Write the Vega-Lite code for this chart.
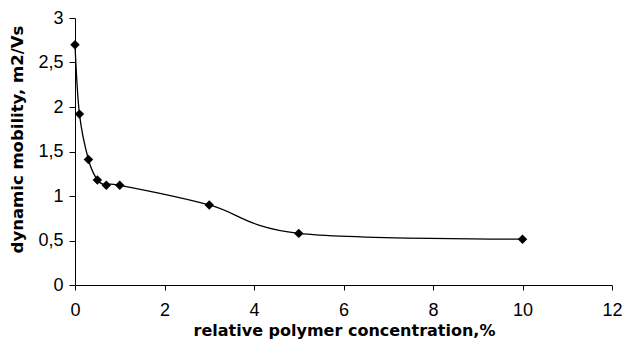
{
  "$schema": "https://vega.github.io/schema/vega-lite/v6.json",
  "width": 537,
  "height": 267,
  "autosize": {"type": "none"},
  "padding": {"left": 75, "top": 18, "right": 12, "bottom": 54},
  "background": "white",
  "config": {
    "view": {"stroke": null}
  },
  "data": {
    "values": [
      {"c": 0, "m": 2.7},
      {"c": 0.1, "m": 1.92},
      {"c": 0.3, "m": 1.41},
      {"c": 0.5, "m": 1.18},
      {"c": 0.7, "m": 1.12},
      {"c": 1, "m": 1.12},
      {"c": 3, "m": 0.9},
      {"c": 5, "m": 0.58},
      {"c": 10, "m": 0.515}
    ]
  },
  "encoding": {
    "x": {
      "field": "c",
      "type": "quantitative",
      "scale": {"domain": [0, 12], "nice": false},
      "axis": {
        "grid": false,
        "domainColor": "black",
        "tickColor": "black",
        "labelFont": "Liberation Sans",
        "labelFontSize": 18,
        "labelColor": "black",
        "titleFont": "DejaVu Sans",
        "titleFontWeight": "bold",
        "titleFontSize": 16,
        "titleColor": "black",
        "values": [0, 2, 4, 6, 8, 10, 12],
        "title": "relative polymer concentration,%",
        "tickSize": 5,
        "labelPadding": 11,
        "labelFlush": false,
        "labelOverlap": false,
        "titleX": 269,
        "titleY": 50,
        "titleAnchor": null,
        "titleAlign": "center",
        "titleBaseline": "alphabetic"
      }
    },
    "y": {
      "field": "m",
      "type": "quantitative",
      "scale": {"domain": [0, 3], "nice": false},
      "axis": {
        "grid": false,
        "domainColor": "black",
        "tickColor": "black",
        "labelFont": "Liberation Sans",
        "labelFontSize": 18,
        "labelColor": "black",
        "titleFont": "DejaVu Sans",
        "titleFontWeight": "bold",
        "titleFontSize": 16.5,
        "titleColor": "black",
        "values": [0, 0.5, 1, 1.5, 2, 2.5, 3],
        "labelExpr": "replace(format(datum.value, '~g'), '.', ',')",
        "title": "dynamic mobility, m2/Vs",
        "tickSize": 6,
        "labelPadding": 6,
        "labelFlush": false,
        "labelOverlap": false,
        "titleX": -58,
        "titleY": 121,
        "titleAngle": -90,
        "titleAlign": "center",
        "titleBaseline": "middle"
      }
    }
  },
  "layer": [
    {
      "mark": {"type": "line", "interpolate": "cardinal", "tension": 0, "color": "black", "strokeWidth": 1.3}
    },
    {
      "mark": {"type": "point", "shape": "diamond", "filled": true, "size": 90, "color": "black", "opacity": 1}
    }
  ]
}
